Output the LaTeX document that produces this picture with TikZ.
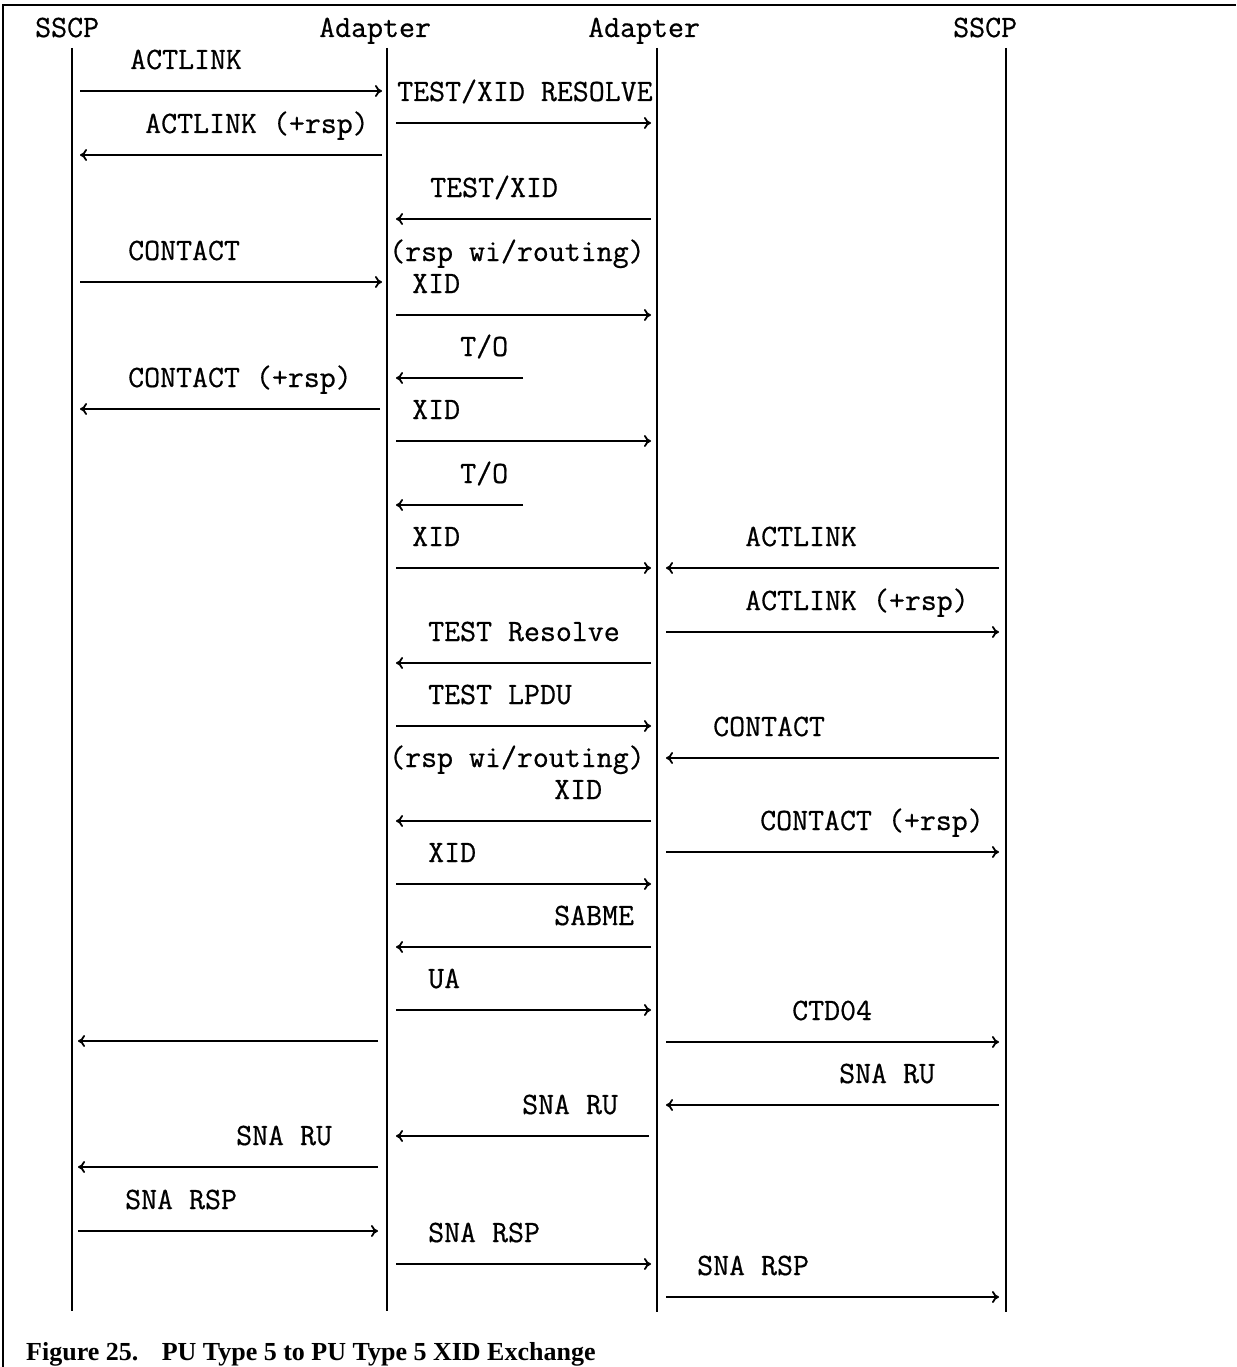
\documentclass[tikz,border=0pt]{standalone}
\usepackage{fontspec}
\setmonofont{Latin Modern Mono}[FakeBold=0.6]
\newfontfamily\capfont{Liberation Serif}
\usetikzlibrary{arrows.meta}

\begin{document}
\begin{tikzpicture}[x=1pt,y=-1pt,
    life/.style={line width=2.6pt},
    msg/.style={line width=1.8pt,-{To[length=7pt,width=12pt]}},
    lbl/.style={inner sep=0pt,anchor=base west,font=\fontsize{31}{36}\selectfont\ttfamily}]

\useasboundingbox (0,0) rectangle (1236,1367);

% frame
\coordinate (fl) at (3,1367);
\coordinate (fc) at (3,5);
\coordinate (fr) at (1236,5);
\draw[line width=2pt] (fl) -- (fc) -- (fr);

% heads
\node[lbl] (hA) at (35,37) {SSCP};
\node[lbl] (hB) at (319,37) {Adapter};
\node[lbl] (hC) at (588,37) {Adapter};
\node[lbl] (hD) at (953,37) {SSCP};

% lifelines
\coordinate (sA) at (72,48);   \coordinate (eA) at (72,1311);
\coordinate (sB) at (387,48);  \coordinate (eB) at (387,1311);
\coordinate (sC) at (657,48);  \coordinate (eC) at (657,1312);
\coordinate (sD) at (1006,48); \coordinate (eD) at (1006,1312);
\draw[life] (sA) -- (eA);
\draw[life] (sB) -- (eB);
\draw[life] (sC) -- (eC);
\draw[life] (sD) -- (eD);

% SSCP <-> Adapter
\coordinate (l1a) at (80,91);   \coordinate (l1b) at (382,91);
\draw[msg] (l1a) -- (l1b);
\node[lbl] (l1) at (130,69) {ACTLINK};
\coordinate (l2a) at (382,155); \coordinate (l2b) at (80,155);
\draw[msg] (l2a) -- (l2b);
\node[lbl] (l2) at (145,133) {ACTLINK (+rsp)};
\coordinate (l3a) at (80,282);  \coordinate (l3b) at (382,282);
\draw[msg] (l3a) -- (l3b);
\node[lbl] (l3) at (128,260) {CONTACT};
\coordinate (l4a) at (380,409); \coordinate (l4b) at (80,409);
\draw[msg] (l4a) -- (l4b);
\node[lbl] (l4) at (128,387) {CONTACT (+rsp)};
\coordinate (l5a) at (378,1041); \coordinate (l5b) at (78,1041);
\draw[msg] (l5a) -- (l5b);
\coordinate (l6a) at (378,1167); \coordinate (l6b) at (78,1167);
\draw[msg] (l6a) -- (l6b);
\node[lbl] (l6) at (236,1145) {SNA RU};
\coordinate (l7a) at (78,1231); \coordinate (l7b) at (378,1231);
\draw[msg] (l7a) -- (l7b);
\node[lbl] (l7) at (125,1209) {SNA RSP};

% Adapter <-> Adapter
\coordinate (m1a) at (396,123); \coordinate (m1b) at (651,123);
\draw[msg] (m1a) -- (m1b);
\node[lbl] (m1) at (397,101) {TEST/XID RESOLVE};
\coordinate (m2a) at (651,219); \coordinate (m2b) at (396,219);
\draw[msg] (m2a) -- (m2b);
\node[lbl] (m2) at (430,197) {TEST/XID};
\coordinate (m3a) at (396,315); \coordinate (m3b) at (651,315);
\draw[msg] (m3a) -- (m3b);
\node[lbl] (m3r) at (389,261) {(rsp wi/routing)};
\node[lbl] (m3) at (412,293) {XID};
\coordinate (m4a) at (523,378); \coordinate (m4b) at (396,378);
\draw[msg] (m4a) -- (m4b);
\node[lbl] (m4) at (460,356) {T/O};
\coordinate (m5a) at (396,441); \coordinate (m5b) at (651,441);
\draw[msg] (m5a) -- (m5b);
\node[lbl] (m5) at (412,419) {XID};
\coordinate (m6a) at (523,505); \coordinate (m6b) at (396,505);
\draw[msg] (m6a) -- (m6b);
\node[lbl] (m6) at (460,483) {T/O};
\coordinate (m7a) at (396,568); \coordinate (m7b) at (651,568);
\draw[msg] (m7a) -- (m7b);
\node[lbl] (m7) at (412,546) {XID};
\coordinate (m8a) at (651,663); \coordinate (m8b) at (396,663);
\draw[msg] (m8a) -- (m8b);
\node[lbl] (m8) at (428,641) {TEST Resolve};
\coordinate (m9a) at (396,726); \coordinate (m9b) at (651,726);
\draw[msg] (m9a) -- (m9b);
\node[lbl] (m9) at (428,704) {TEST LPDU};
\coordinate (m10a) at (651,821); \coordinate (m10b) at (396,821);
\draw[msg] (m10a) -- (m10b);
\node[lbl] (m10r) at (389,767) {(rsp wi/routing)};
\node[lbl] (m10) at (554,799) {XID};
\coordinate (m11a) at (396,884); \coordinate (m11b) at (651,884);
\draw[msg] (m11a) -- (m11b);
\node[lbl] (m11) at (428,862) {XID};
\coordinate (m12a) at (651,947); \coordinate (m12b) at (396,947);
\draw[msg] (m12a) -- (m12b);
\node[lbl] (m12) at (554,925) {SABME};
\coordinate (m13a) at (396,1010); \coordinate (m13b) at (651,1010);
\draw[msg] (m13a) -- (m13b);
\node[lbl] (m13) at (428,988) {UA};
\coordinate (m14a) at (649,1136); \coordinate (m14b) at (396,1136);
\draw[msg] (m14a) -- (m14b);
\node[lbl] (m14) at (522,1114) {SNA RU};
\coordinate (m15a) at (396,1264); \coordinate (m15b) at (651,1264);
\draw[msg] (m15a) -- (m15b);
\node[lbl] (m15) at (428,1242) {SNA RSP};

% Adapter <-> SSCP
\coordinate (r1a) at (999,568); \coordinate (r1b) at (666,568);
\draw[msg] (r1a) -- (r1b);
\node[lbl] (r1) at (745,546) {ACTLINK};
\coordinate (r2a) at (666,632); \coordinate (r2b) at (999,632);
\draw[msg] (r2a) -- (r2b);
\node[lbl] (r2) at (745,610) {ACTLINK (+rsp)};
\coordinate (r3a) at (999,758); \coordinate (r3b) at (666,758);
\draw[msg] (r3a) -- (r3b);
\node[lbl] (r3) at (713,736) {CONTACT};
\coordinate (r4a) at (666,852); \coordinate (r4b) at (999,852);
\draw[msg] (r4a) -- (r4b);
\node[lbl] (r4) at (760,830) {CONTACT (+rsp)};
\coordinate (r5a) at (666,1042); \coordinate (r5b) at (999,1042);
\draw[msg] (r5a) -- (r5b);
\node[lbl] (r5) at (792,1020) {CTD04};
\coordinate (r6a) at (999,1105); \coordinate (r6b) at (666,1105);
\draw[msg] (r6a) -- (r6b);
\node[lbl] (r6) at (839,1083) {SNA RU};
\coordinate (r7a) at (666,1297); \coordinate (r7b) at (999,1297);
\draw[msg] (r7a) -- (r7b);
\node[lbl] (r7) at (697,1275) {SNA RSP};

% caption
\node[inner sep=0pt,anchor=base west,font=\fontsize{26}{30}\selectfont\capfont\bfseries] (cap) at (26,1360)
  {Figure 25.\hspace{0.9em}PU Type 5 to PU Type 5 XID Exchange};

\end{tikzpicture}
\end{document}
